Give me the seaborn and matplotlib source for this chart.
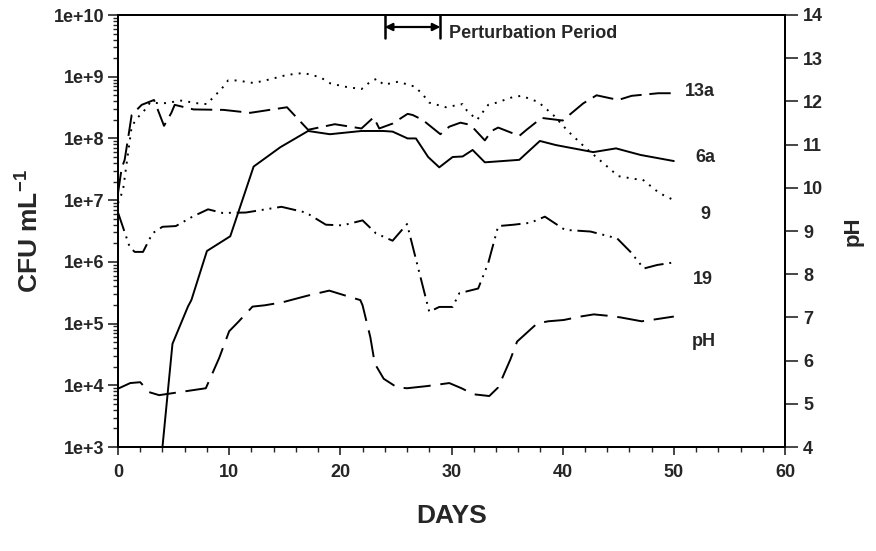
import numpy as np
import pandas as pd
import seaborn as sns
import matplotlib
matplotlib.use("Agg")
import matplotlib.pyplot as plt
from matplotlib.ticker import FixedLocator, LogLocator, MultipleLocator, NullFormatter

# ---------------- data ----------------
days_13a = [0, 0.33, 0.6, 0.93, 1.23, 2.13, 3.24, 4.14, 4.8, 5.1, 6.8, 9.5, 11.9, 15.2, 17.1,
            19.5, 21.9, 23.0, 23.5, 24.7, 26.05, 26.5, 27.4, 29.0, 29.8, 30.8, 31.7, 33.0,
            33.6, 34.2, 36.1, 36.75, 38.1, 40.0, 40.6, 41.85, 43.05, 45.0, 46.2, 48.6, 50]
cfu_13a = [1.3e7, 3.3e7, 4.5e7, 1.07e8, 2.4e8, 3.5e8, 4.2e8, 1.6e8, 2.6e8, 3.5e8, 2.95e8,
           2.9e8, 2.6e8, 3.2e8, 1.38e8, 1.7e8, 1.45e8, 2.2e8, 1.45e8, 1.74e8, 2.5e8, 2.4e8,
           2.0e8, 1.17e8, 1.55e8, 1.8e8, 1.66e8, 9.3e7, 1.32e8, 1.5e8, 1.1e8, 1.38e8, 2.15e8,
           1.95e8, 2.4e8, 3.7e8, 5.0e8, 4.2e8, 4.9e8, 5.4e8, 5.4e8]

days_6a = [4, 4.9, 6.3, 6.6, 8, 10.1, 12.2, 14.6, 17.1, 19.06, 21.9, 23.86, 24.7, 26.05, 26.8,
           27.9, 28.9, 30.1, 31, 31.9, 33, 36.1, 37.95, 39.4, 42.75, 44.8, 47, 50]
cfu_6a = [1.0e3, 4.7e4, 1.9e5, 2.4e5, 1.5e6, 2.6e6, 3.5e7, 7.2e7, 1.32e8, 1.17e8, 1.32e8,
          1.32e8, 1.29e8, 1.0e8, 1.0e8, 5.0e7, 3.4e7, 5.0e7, 5.1e7, 6.5e7, 4.1e7, 4.5e7,
          9.1e7, 7.8e7, 6.0e7, 6.9e7, 5.4e7, 4.3e7]

days_9 = [0, 0.45, 1.23, 1.68, 2.28, 2.88, 4.08, 5.7, 7.2, 8.0, 8.6, 9.3, 9.9, 10.7, 12.2, 13.7,
          15.2, 16.7, 18.2, 19.1, 20.4, 21.9, 22.7, 23.3, 23.9, 25.2, 26.7, 27.4, 28.0, 29.5,
          31.0, 31.4, 32.3, 33.3, 34.05, 35.55, 36.3, 37.8, 39.15, 40.5, 42.0, 43.5, 45.0,
          46.5, 47.2, 48.7, 50]
cfu_9 = [8.9e6, 1.45e7, 1.55e8, 2.1e8, 2.7e8, 3.8e8, 3.7e8, 4.1e8, 3.7e8, 3.6e8, 4.7e8, 6.3e8,
         8.7e8, 8.7e8, 7.9e8, 9.1e8, 1.07e9, 1.15e9, 9.8e8, 7.8e8, 6.9e8, 6.3e8, 8.3e8, 9.3e8,
         7.4e8, 8.3e8, 6.9e8, 5.2e8, 3.8e8, 3.2e8, 3.6e8, 2.8e8, 2.0e8, 3.5e8, 3.8e8, 4.7e8,
         4.9e8, 3.9e8, 2.4e8, 1.3e8, 7.2e7, 4.2e7, 2.45e7, 2.2e7, 2.15e7, 1.3e7, 1.0e7]

days_19 = [0, 1.05, 1.5, 2.25, 3.1, 4.0, 5.2, 6.7, 8.1, 9.4, 11.5, 13.9, 14.7, 16.9, 18.7,
           20.2, 22.0, 23.2, 24.7, 26.0, 28.0, 28.9, 30.1, 30.7, 32.4, 33.3, 34.2, 35.6, 37.1,
           38.4, 40.2, 42.5, 44.9, 46.1, 47.3, 48.5, 50]
cfu_19 = [6.3e6, 1.74e6, 1.45e6, 1.45e6, 2.9e6, 3.7e6, 3.8e6, 5.4e6, 7.1e6, 6.2e6, 6.3e6,
          7.4e6, 7.8e6, 6.3e6, 4.0e6, 3.9e6, 4.7e6, 2.9e6, 2.2e6, 4.1e6, 1.55e5, 1.86e5,
          1.86e5, 3.1e5, 3.7e5, 9.5e5, 3.8e6, 4.0e6, 4.3e6, 5.4e6, 3.3e6, 3.1e6, 2.4e6,
          1.45e6, 7.8e5, 8.9e5, 9.8e5]

days_ph = [0, 1.1, 2, 2.8, 3.7, 7.9, 9.1, 10, 10.8, 12.1, 13.2, 14.8, 17, 19, 20.9, 21.8, 22,
           22.7, 23.1, 23.9, 25.1, 26, 27.8, 29.8, 30.9, 32, 33.4, 34.2, 35.3, 35.9, 37.7,
           38.7, 40.1, 41.6, 42.8, 44, 45.2, 47.1, 48.2, 50]
ph_vals = [5.35, 5.48, 5.50, 5.27, 5.20, 5.36, 6.06, 6.68, 6.89, 7.25, 7.28, 7.35, 7.50, 7.62,
           7.47, 7.40, 7.28, 6.54, 5.93, 5.58, 5.38, 5.36, 5.41, 5.48, 5.36, 5.22, 5.18, 5.38,
           6.03, 6.44, 6.86, 6.91, 6.94, 7.02, 7.07, 7.04, 7.00, 6.91, 6.95, 7.02]

series_labels = ["13a", "6a", "9", "19", "pH"]
left_tick_exps = [3, 4, 5, 6, 7, 8, 9, 10]
ph_ticks = [4, 5, 6, 7, 8, 9, 10, 11, 12, 13, 14]
x_ticks = [0, 10, 20, 30, 40, 50, 60]
period_start, period_end = 24, 29

# ---------------- style ----------------
sns.set_style("ticks")
plt.rcParams["font.family"] = ["Liberation Sans", "DejaVu Sans"]
plt.rcParams["font.weight"] = "bold"
plt.rcParams["mathtext.fontset"] = "custom"
plt.rcParams["mathtext.rm"] = "Liberation Sans:bold"
plt.rcParams["mathtext.bf"] = "Liberation Sans:bold"
plt.rcParams["axes.linewidth"] = 1.4

W, H = 876, 551
fig = plt.figure(figsize=(W / 100, H / 100), dpi=100)
L, R, T, B = 118, 785, 15, 447
ax = fig.add_axes([L / W, 1 - B / H, (R - L) / W, (B - T) / H])
ax2 = ax.twinx()

ax.set_yscale("log")
ax.set_xlim(0, 60)
ax.set_ylim(1e3, 1e10)
ax2.set_ylim(4, 14)

lw = 1.4
blk = "black"
sns.lineplot(x=days_13a, y=cfu_13a, ax=ax, color=blk, lw=lw, linestyle=(0, (11, 4)), sort=False)
sns.lineplot(x=days_6a, y=cfu_6a, ax=ax, color=blk, lw=lw, linestyle="-", sort=False)
sns.lineplot(x=days_9, y=cfu_9, ax=ax, color=blk, lw=lw, linestyle=(0, (1, 3.2)), sort=False)
sns.lineplot(x=days_19, y=cfu_19, ax=ax, color=blk, lw=lw,
             linestyle=(0, (10, 3, 1, 3, 1, 3)), sort=False)
sns.lineplot(x=days_ph, y=ph_vals, ax=ax2, color=blk, lw=lw, linestyle=(0, (14, 5)), sort=False)

# ticks
ax.yaxis.set_major_locator(FixedLocator([10.0 ** e for e in left_tick_exps]))
ax.set_yticklabels([f"1e+{e}" for e in left_tick_exps])
ax.yaxis.set_minor_locator(LogLocator(base=10, subs=np.arange(2, 10), numticks=20))
ax.yaxis.set_minor_formatter(NullFormatter())
ax.set_xticks(x_ticks)
ax.set_xticklabels([str(v) for v in x_ticks])
ax.xaxis.set_minor_locator(MultipleLocator(2))
ax2.set_yticks(ph_ticks)
ax2.set_yticklabels([str(v) for v in ph_ticks])

ax.tick_params(axis="y", which="major", direction="out", length=7, width=1.2,
               labelsize=13, pad=3)
ax.tick_params(axis="y", which="minor", direction="out", length=3.5, width=1)
ax.tick_params(axis="x", which="major", direction="out", length=6, width=1.2,
               labelsize=13, pad=6)
ax.tick_params(axis="x", which="minor", direction="out", length=3.5, width=1)
ax2.tick_params(axis="y", which="major", direction="out", length=9, width=1.2,
                labelsize=13, pad=4)
for t in ax.get_yticklabels() + ax.get_xticklabels() + ax2.get_yticklabels():
    t.set_fontweight("bold")

for a in (ax, ax2):
    for s in a.spines.values():
        s.set_visible(True)
        s.set_linewidth(1.4)
        s.set_color("black")

ax.set_xlabel("DAYS", fontsize=19, fontweight="bold", labelpad=17)
ax.set_ylabel(r"CFU mL$^{-1}$", fontsize=19, fontweight="bold", labelpad=8)
ax2.set_ylabel("pH", fontsize=16, fontweight="bold", labelpad=14)

# perturbation period bracket
xtr = ax.get_xaxis_transform()
bar_bottom = (B - 38) / (B - T)
arrow_y = (B - 27) / (B - T)
for d in (period_start, period_end):
    ax.plot([d, d], [1.0, bar_bottom], transform=xtr, color=blk, lw=1.8, clip_on=False)
ax.annotate("", xy=(period_end, arrow_y), xytext=(period_start, arrow_y),
            xycoords=xtr, textcoords=xtr,
            arrowprops=dict(arrowstyle="<|-|>", color=blk, lw=1.6, mutation_scale=11,
                            shrinkA=0, shrinkB=0))
ax.text(period_end + 0.8, (B - 33) / (B - T), "Perturbation Period", transform=xtr,
        fontsize=13, fontweight="bold", va="center", ha="left")

# series labels at right
label_pos = [(685, 91), (695, 158), (700, 215), (693, 279), (692, 342)]
for lab, (px, py) in zip(series_labels, label_pos):
    fig.text(px / W, 1 - py / H, lab, fontsize=13, fontweight="bold", va="center", ha="left")

fig.savefig("out.png", dpi=100)
